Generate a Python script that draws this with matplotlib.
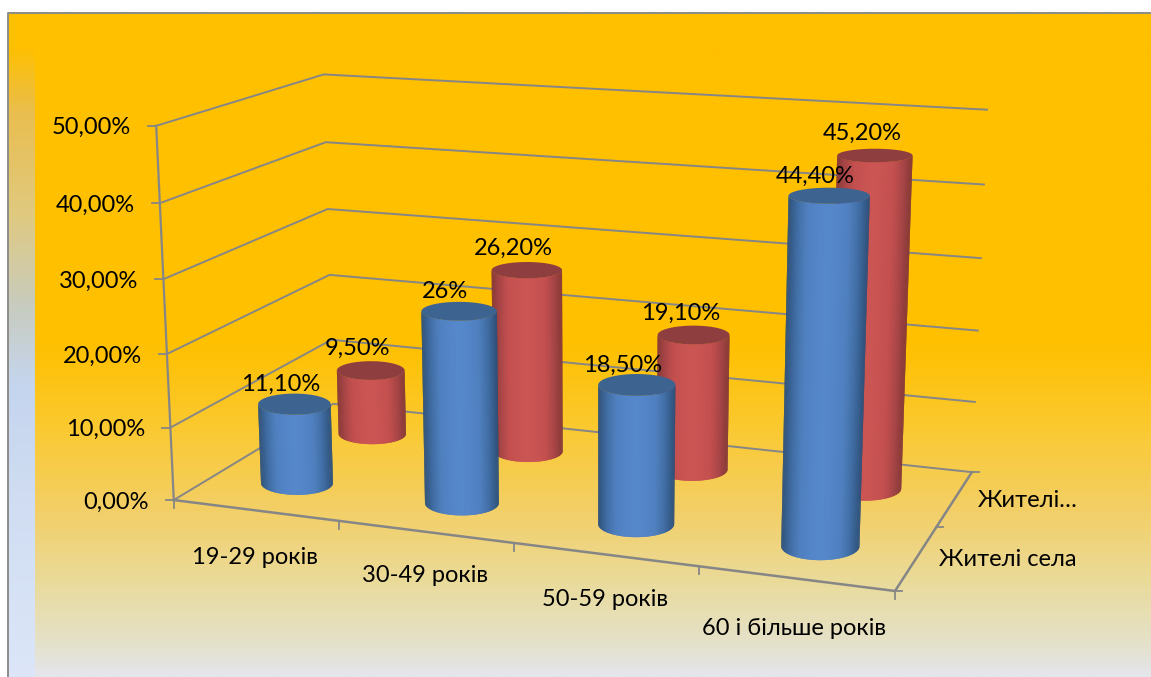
import numpy as np
import matplotlib
matplotlib.use('Agg')
import matplotlib.pyplot as plt
from matplotlib.colors import LinearSegmentedColormap

plt.rcParams['font.family'] = ['Lato', 'Open Sans', 'DejaVu Sans']

# chart data
categories = ['19-29 років', '30-49 років', '50-59 років', '60 і більше років']
series_names = ['Жителі села', 'Жителі…']
rural = [11.1, 26.0, 18.5, 44.4]
urban = [9.5, 26.2, 19.1, 45.2]
rural_labels = ['11,10%', '26%', '18,50%', '44,40%']
urban_labels = ['9,50%', '26,20%', '19,10%', '45,20%']
y_ticks = [0, 10, 20, 30, 40, 50]
y_tick_labels = ['0,00%', '10,00%', '20,00%', '30,00%', '40,00%', '50,00%']

W, H = 1151, 677
GRID = '#868686'
FS = 17

# box corners (category, series, value) and where they land on the canvas
box_corners = [(0, 0, 0), (4, 0, 0), (0, 2, 0), (4, 2, 0), (0, 0, 50), (0, 2, 50), (4, 2, 50)]
canvas_corners = [(174, 499), (895, 592), (333, 405), (972, 471), (156, 126), (324, 74), (987, 110)]


def fit_camera(world, image):
    rows, rhs = [], []
    for (x, y, z), (u, v) in zip(world, image):
        rows.append([x, y, z, 1, 0, 0, 0, 0, -u * x, -u * y, -u * z])
        rows.append([0, 0, 0, 0, x, y, z, 1, -v * x, -v * y, -v * z])
        rhs += [u, v]
    p = np.linalg.lstsq(np.array(rows, float), np.array(rhs, float), rcond=None)[0]
    return np.append(p, 1).reshape(3, 4)


CAM = fit_camera(box_corners, canvas_corners)


def project(x, y, z):
    a, b, w = CAM @ np.array([x, y, z, 1.0])
    return a / w, b / w, w


def pt(x, y, z):
    return project(x, y, z)[:2]


def ellipse_size(x, y, z):
    # radius grows towards the viewer, ellipses open up lower on the canvas
    px, py, w = project(x, y, z)
    rx = 36 / w * project(0.5, 0.5, 0)[2]
    return px, py, rx, rx * (0.2 + (py - 200) * 0.00045)


def draw_cylinder(ax, x, y, value, cmap, top_color, z):
    cx0, cy0, rx0, ry0 = ellipse_size(x, y, 0)
    cx1, cy1, rx1, ry1 = ellipse_size(x, y, value)
    th = np.linspace(0, np.pi, 81)
    bx, by = cx0 + rx0 * np.cos(th), cy0 + ry0 * np.sin(th)
    tx, ty = cx1 + rx1 * np.cos(th), cy1 + ry1 * np.sin(th)
    # overlapping strips from both edges towards the middle, so no seams show
    n = len(th) - 1
    order = sorted(range(n), key=lambda k: -abs(k - (n - 1) / 2))
    for k in order:
        j = min(k + 2, n)
        shade = abs(np.cos((th[k] + th[k + 1]) / 2)) ** 1.6
        ax.fill([bx[k], bx[j], tx[j], tx[k]], [by[k], by[j], ty[j], ty[k]],
                color=cmap(shade), lw=0, zorder=z)
    t = np.linspace(0, 2 * np.pi, 121)
    ax.fill(cx1 + rx1 * np.cos(t), cy1 + ry1 * np.sin(t), color=top_color, lw=0, zorder=z + 0.1)


fig = plt.figure(figsize=(W / 100, H / 100), dpi=100)
ax = fig.add_axes([0, 0, 1, 1])
ax.axis('off')

# panel backgrounds
main_bg = LinearSegmentedColormap.from_list('main', [
    (0, '#FFC000'), (0.5, '#FFC000'), (0.62, '#FBC92E'), (0.75, '#F3CF66'),
    (0.87, '#E9DCA0'), (0.95, '#E5E1C8'), (1, '#E3E6EC')])
strip_bg = LinearSegmentedColormap.from_list('strip', [
    (0, '#FFC000'), (0.05, '#FFC000'), (0.15, '#E9BE4F'), (0.3, '#E0C97E'),
    (0.44, '#C8CCBE'), (0.56, '#C5D5EE'), (0.74, '#D0DDF2'), (1, '#DCE6F8')])
grad = np.linspace(0, 1, 340).reshape(-1, 1)
ax.imshow(grad, cmap=main_bg, extent=(8, W, H, 12), aspect='auto', zorder=0)
ax.imshow(grad, cmap=strip_bg, extent=(9, 35, H, 12), aspect='auto', zorder=0.5)
ax.plot([8.5, 8.5, W], [H, 12.5, 12.5], color='#8C8C8C', lw=1.4, zorder=1)
ax.set_xlim(0, W)
ax.set_ylim(H, 0)

# gridlines along the side and back walls
for v in y_ticks:
    pts = [pt(0, 0, v), pt(0, 2, v), pt(4, 2, v)]
    ax.plot(*zip(*pts), color=GRID, lw=1.4, zorder=2)

# axes and floor edges
ax.plot(*zip(pt(0, 0, 0), pt(0, 0, 50)), color=GRID, lw=1.6, zorder=2)
floor = [pt(0, 0, 0), pt(4, 0, 0), pt(4, 2, 0)]
ax.plot(*zip(*floor), color=GRID, lw=1.8, zorder=2)

for v, lab in zip(y_ticks, y_tick_labels):
    px, py = pt(0, 0, v)
    ax.plot([px - 8, px], [py, py], color=GRID, lw=1.3, zorder=2)
    ax.text(px - 25, py + 2, lab, ha='right', va='center', fontsize=FS, color='black', zorder=6)

for i in range(5):
    px, py = pt(i, 0, 0)
    ax.plot([px, px], [py, py + 8], color=GRID, lw=1.3, zorder=2)

for i in range(3):
    px, py = pt(4, i, 0)
    ax.plot([px, px + 7], [py, py], color=GRID, lw=1.3, zorder=2)

x_offsets = [(0, 47), (0, 44), (0, 45), (-1, 50)]
for i, lab in enumerate(categories):
    px, py = pt(i + 0.5, 0, 0)
    ax.text(px + x_offsets[i][0], py + x_offsets[i][1], lab, ha='center', va='center',
            fontsize=FS, color='black', zorder=6)

for i, lab in enumerate(series_names):
    px, py = pt(4, i + 0.5, 0)
    ax.text(px + 23, py + 2, lab, ha='left', va='center', fontsize=FS, color='black', zorder=6)

# cylinders, back row first
blue = LinearSegmentedColormap.from_list('blue', ['#5587CB', '#4F7FBE', '#3E6A9F', '#2C4F78'])
red = LinearSegmentedColormap.from_list('red', ['#CA5553', '#C34F4F', '#A64546', '#833636'])

for i, val in enumerate(urban):
    draw_cylinder(ax, i + 0.5, 1.5, val, red, '#8F3E3F', 3 + i * 0.2)
for i, val in enumerate(rural):
    draw_cylinder(ax, i + 0.5, 0.5, val, blue, '#3D6490', 4 + i * 0.2)

# value labels
for i in range(4):
    px, py = pt(i + 0.5, 1.5, urban[i])
    ax.text(px - 13, py - 22, urban_labels[i], ha='center', va='center', fontsize=FS, color='black', zorder=6)
    px, py = pt(i + 0.5, 0.5, rural[i])
    ax.text(px - 14, py - 19.5, rural_labels[i], ha='center', va='center', fontsize=FS, color='black', zorder=6)

fig.savefig('out.png', dpi=100)
